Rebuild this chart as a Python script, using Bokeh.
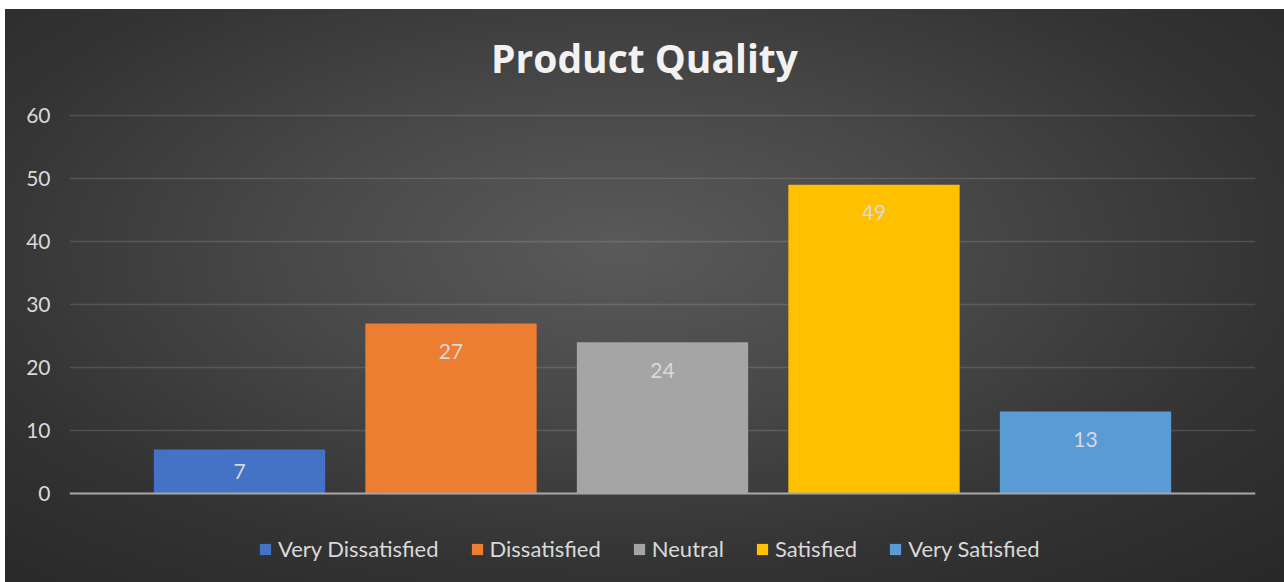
from bokeh.plotting import figure
from bokeh.models import (ColumnDataSource, Legend, LegendItem, Span, Label,
                          FixedTicker, FactorRange, Range1d)
from bokeh.core.properties import value
from bokeh.embed import file_html
from bokeh.resources import INLINE

# ---- data ----
categories = ["Very Dissatisfied", "Dissatisfied", "Neutral", "Satisfied", "Very Satisfied"]
counts = [7, 27, 24, 49, 13]
bar_colors = ["#4472c4", "#ed7d31", "#a5a5a5", "#ffc000", "#5b9bd5"]
y_ticks = [0, 10, 20, 30, 40, 50, 60]
title_text = "Product Quality"

FONT = "Lato"
TXT = "#d9d9d9"

# ---- layout geometry (pixels) ----
W, H = 1279, 573
FRAME_TOP_TO_MAX = 106      # px from canvas top to the 60 gridline
AXIS_SPAN_PX = 378          # px between 0 and 60
px_per_unit = AXIS_SPAN_PX / (y_ticks[-1] - y_ticks[0])
y_top = y_ticks[-1] + FRAME_TOP_TO_MAX / px_per_unit
y_bot = -(H - FRAME_TOP_TO_MAX - AXIS_SPAN_PX) / px_per_unit

# label positions: inside bar end, centred in short bars
label_y = [max(v - 28 / px_per_unit, v / 2.0) for v in counts]
label_txt = [str(v) for v in counts]

src = ColumnDataSource(dict(cat=categories, val=counts, color=bar_colors,
                            ly=label_y, lt=label_txt))

p = figure(width=W, height=H, output_backend="svg", toolbar_location=None,
           x_range=FactorRange(*categories, range_padding=0.3038,
                               range_padding_units="absolute"),
           y_range=Range1d(y_bot, y_top),
           min_border_left=64, min_border_right=29, min_border_top=0,
           min_border_bottom=0)
p.margin = (9, 0, 0, 5)
p.border_fill_color = None
p.background_fill_color = None
p.outline_line_color = None
p.styles = {"background": "radial-gradient(ellipse 75% 80% at 48% 42%, #5a5a5a 0%, #484848 35%, #333333 70%, #282828 100%)"}

bars = p.vbar(x="cat", top="val", width=0.81, color="color", source=src,
              line_color=None)

p.text(x="cat", y="ly", text="lt", source=src, text_align="center",
       text_baseline="middle", text_color=TXT, text_font=value(FONT),
       text_font_size="21px")

p.add_layout(Span(location=0, dimension="width", line_color="#a6a6a6",
                  line_width=2))

p.xaxis.visible = False
p.xgrid.visible = False
p.yaxis.ticker = FixedTicker(ticks=y_ticks)
p.yaxis.axis_line_color = None
p.yaxis.major_tick_line_color = None
p.yaxis.minor_tick_line_color = None
p.yaxis.major_tick_out = 0
p.yaxis.major_label_standoff = 19
p.yaxis.major_label_text_color = TXT
p.yaxis.major_label_text_font = FONT
p.yaxis.major_label_text_font_size = "21px"
p.ygrid.grid_line_color = "white"
p.ygrid.grid_line_alpha = 0.13
p.ygrid.grid_line_width = 1.5

# chart title (kept inside the frame so it can sit exactly where the reference has it)
title = Label(x=len(categories) / 2 - 0.085, y=y_ticks[-1] + 58 / px_per_unit,
              text=title_text, text_align="center", text_baseline="alphabetic",
              text_font="Open Sans", text_font_style="bold",
              text_font_size="39px", text_color="#f2f2f2")
p.add_layout(title)

items = [LegendItem(label=c, renderers=[bars], index=i) for i, c in enumerate(categories)]
legend = Legend(items=items, orientation="horizontal", location=(189, 20),
                glyph_width=14, glyph_height=14, label_standoff=6, spacing=31,
                label_text_color=TXT, label_text_font=FONT,
                label_text_font_size="22px", background_fill_alpha=0,
                border_line_color=None, padding=0, margin=0)
p.add_layout(legend, "center")

open("out.html", "w").write(file_html(p, INLINE))
